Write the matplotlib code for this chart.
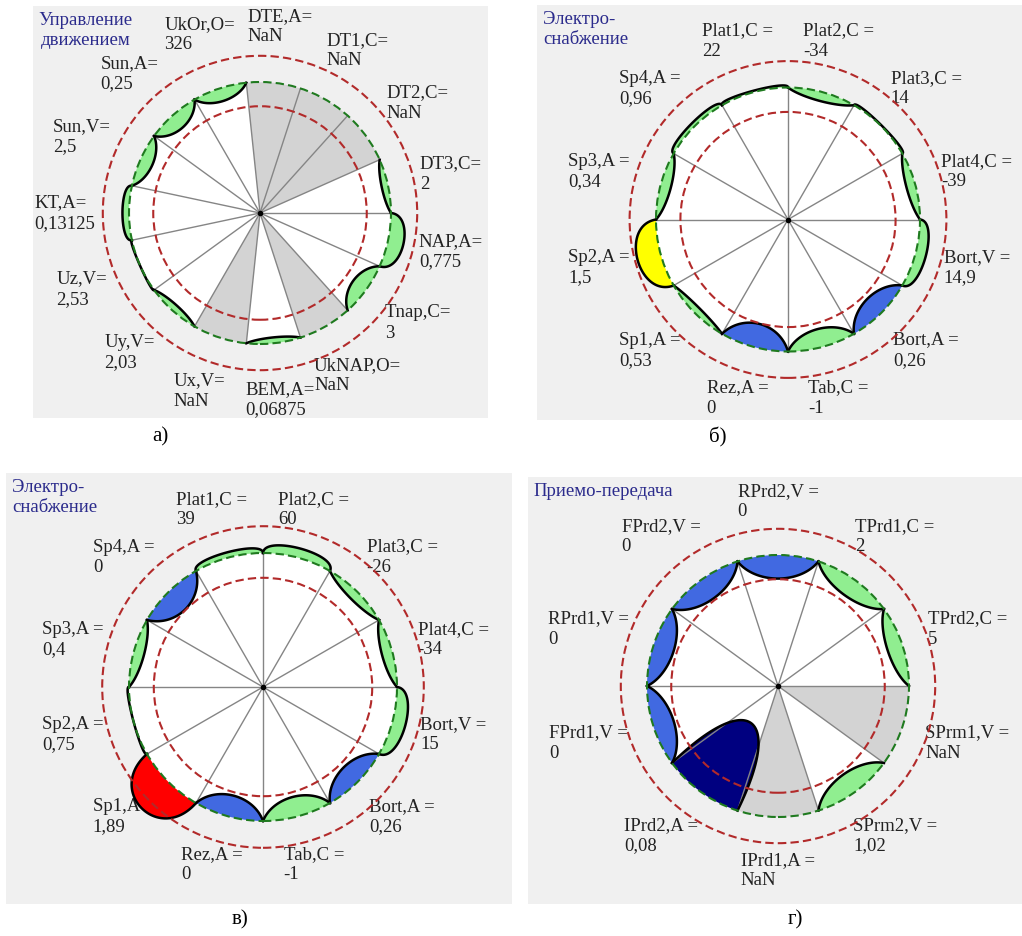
import numpy as np
import matplotlib.pyplot as plt
from matplotlib.patches import Polygon, Circle, Wedge

plt.rcParams['font.family'] = ['Liberation Serif', 'DejaVu Serif']

W, H = 1022, 936
nan = np.nan

# a) motion control, 15 sectors clockwise starting at -30 deg
a_names = ['UkOr,O=', 'DTE,A=', 'DT1,C=', 'DT2,C=', 'DT3,C=', 'NAP,A=', 'Tnap,C=', 'UkNAP,O=',
           'BEM,A=', 'Ux,V=', 'Uy,V=', 'Uz,V=', 'KT,A=', 'Sun,V=', 'Sun,A=']
a_values = ['326', 'NaN', 'NaN', 'NaN', '2', '0,775', '3', 'NaN',
            '0,06875', 'NaN', '2,03', '2,53', '0,13125', '2,5', '0,25']
a_level = [0.90, nan, nan, nan, 0.95, 1.12, 0.88, nan, 0.955, nan, 0.95, 1.0, 1.05, 0.90, 0.88]
a_state = ['norm', 'nan', 'nan', 'nan', 'norm', 'norm', 'norm', 'nan',
           'norm', 'nan', 'norm', 'norm', 'norm', 'norm', 'norm']

# б) / в) power supply, 12 sectors
ps_names = ['Plat1,C =', 'Plat2,C =', 'Plat3,C =', 'Plat4,C =', 'Bort,V =', 'Bort,A =',
            'Tab,C =', 'Rez,A =', 'Sp1,A =', 'Sp2,A =', 'Sp3,A =', 'Sp4,A =']
b_values = ['22', '-34', '14', '-39', '14,9', '0,26', '-1', '0', '0,53', '1,5', '0,34', '0,96']
b_level = [1.01, 0.93, 1.005, 0.93, 1.08, 0.85, 0.86, 0.82, 0.95, 1.18, 0.92, 1.03]
b_state = ['norm', 'norm', 'norm', 'norm', 'norm', 'low', 'norm', 'low', 'norm', 'warn', 'norm', 'norm']

v_values = ['39', '60', '-26', '-34', '15', '0,26', '-1', '0', '1,89', '0,75', '0,4', '0']
v_level = [1.04, 1.07, 0.93, 0.92, 1.10, 0.85, 0.85, 0.84, 1.28, 1.0, 0.92, 0.82]
v_state = ['norm', 'norm', 'norm', 'norm', 'norm', 'low', 'norm', 'low', 'alarm', 'norm', 'norm', 'low']

# г) receive / transmit, 10 sectors
g_names = ['RPrd2,V =', 'TPrd1,C =', 'TPrd2,C =', 'SPrm1,V =', 'SPrm2,V =',
           'IPrd1,A =', 'IPrd2,A =', 'FPrd1,V =', 'RPrd1,V =', 'FPrd2,V =']
g_values = ['0', '2', '5', 'NaN', '1,02', 'NaN', '0,08', '0', '0', '0']
g_level = [0.82, 0.86, 0.88, nan, 0.84, nan, 0.35, 0.84, 0.84, 0.83]
g_state = ['low', 'norm', 'norm', 'nan', 'norm', 'nan', 'fail', 'low', 'low', 'low']

colors = {'norm': '#90ee90', 'low': '#4169e1', 'warn': '#ffff00',
          'alarm': '#ff0000', 'fail': '#000080', 'nan': '#d3d3d3'}
bg = '#f0f0f0'

fig = plt.figure(figsize=(W / 100, H / 100), dpi=100)


def petal(t1, t2, level):
    # cubic bezier between two spoke ends, apex at the given radius
    a1, a2 = np.radians(t1), np.radians(t2)
    am = (a1 + a2) / 2
    p1 = np.array([np.sin(a1), np.cos(a1)])
    p2 = np.array([np.sin(a2), np.cos(a2)])
    u = np.array([np.sin(am), np.cos(am)])
    m = (p1 + p2) / 2
    s = level - np.cos((a2 - a1) / 2)
    d = s / 0.75
    k = -0.1 if s > 0 else 0.45
    c1 = p1 + d * u + k * (m - p1)
    c2 = p2 + d * u + k * (m - p2)
    t = np.linspace(0, 1, 80)[:, None]
    pts = ((1 - t) ** 3 * p1 + 3 * (1 - t) ** 2 * t * c1
           + 3 * (1 - t) * t ** 2 * c2 + t ** 3 * p2)
    return pts


def draw_panel(box, centre, R, start, names, values, levels, states, lab_r, title, talign):
    x0, y0, x1, y1 = box
    cx, cy = centre
    ax = fig.add_axes([x0 / W, 1 - y1 / H, (x1 - x0) / W, (y1 - y0) / H])
    ax.set_xlim((x0 - cx) / R, (x1 - cx) / R)
    ax.set_ylim((cy - y1) / R, (cy - y0) / R)
    ax.set_facecolor(bg)
    for sp in ax.spines.values():
        sp.set_visible(False)
    ax.set_xticks([])
    ax.set_yticks([])

    n = len(names)
    step = 360 / n
    edges = start + step * np.arange(n + 1)
    ax.add_patch(Circle((0, 0), 1, fc='white', ec='none', zorder=2))
    for i in range(n):
        t1, t2 = edges[i], edges[i + 1]
        if states[i] == 'nan':
            ax.add_patch(Wedge((0, 0), 1, 90 - t2, 90 - t1, fc=colors['nan'], ec='none', zorder=3))
        else:
            pts = petal(t1, t2, levels[i])
            arc = np.radians(np.linspace(t2, t1, 40))
            back = np.column_stack([np.sin(arc), np.cos(arc)])
            ax.add_patch(Polygon(np.vstack([pts, back]), closed=True,
                                 fc=colors[states[i]], ec='none', zorder=3))
            ax.plot(pts[:, 0], pts[:, 1], color='black', lw=1.8, zorder=5)
        tm = np.radians((t1 + t2) / 2)
        ax.text(lab_r[0] * np.sin(tm), lab_r[1] * np.cos(tm), names[i] + '\n' + values[i],
                ha='center', va='center', multialignment='left', fontsize=13.5,
                color='#222222', zorder=1, linespacing=1.25)

    for t in edges[:-1]:
        a = np.radians(t)
        ax.plot([0, np.sin(a)], [0, np.cos(a)], color='#858585', lw=1.0, zorder=4)
    ax.plot([0], [0], 'o', color='black', ms=3, zorder=8)

    ax.add_patch(Circle((0, 0), 1, fill=False, ec='#1f7a1f', lw=1.5, ls=(0, (4, 2)), zorder=6))
    for r in (0.815, 1.2):
        ax.add_patch(Circle((0, 0), r, fill=False, ec='#b22a2a', lw=1.5, ls=(0, (4, 2)), zorder=7))

    ax.text(0.012, 0.985, title, transform=ax.transAxes, ha='left', va='top',
            multialignment=talign, fontsize=13.5, color='#2b2b8c', zorder=1, linespacing=1.2)
    return ax


draw_panel((33, 6, 488, 418), (260, 213), 131, -30, a_names, a_values, a_level, a_state,
           (1.49, 1.43), 'Управление\nдвижением', 'center')
draw_panel((537, 5, 1022, 420), (788, 219.5), 132, -30, ps_names, b_values, b_level, b_state,
           (1.48, 1.40), 'Электро-\nснабжение', 'left')
draw_panel((6, 473, 512, 904), (263, 687), 134, -30, ps_names, v_values, v_level, v_state,
           (1.47, 1.37), 'Электро-\nснабжение', 'left')
draw_panel((528, 477, 1022, 904), (778, 686), 131, -18, g_names, g_values, g_level, g_state,
           (1.52, 1.41), 'Приемо-передача', 'left')

for txt, x, y in [('а)', 160, 437), ('б)', 718, 437), ('в)', 240, 920), ('г)', 795, 920)]:
    fig.text(x / W, 1 - y / H, txt, ha='center', va='center', fontsize=15)

fig.savefig('out.png', dpi=100, facecolor='white')
